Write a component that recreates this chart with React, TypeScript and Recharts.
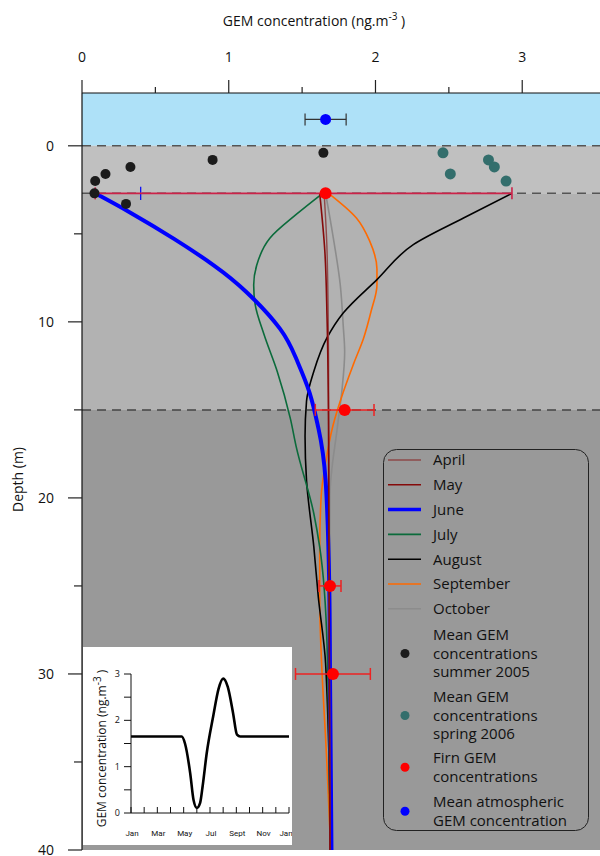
import {
  ComposedChart,
  LineChart,
  Line,
  Scatter,
  XAxis,
  YAxis,
  ReferenceArea,
  ReferenceLine,
  ErrorBar,
  Legend,
} from "recharts";

const FONT = "'Open Sans', 'DejaVu Sans', sans-serif";

// modelled firn profiles: depth (m) -> GEM concentration (ng.m-3)
const aprilProfile = [
  { depth: 2.7, conc: 1.65 },
  { depth: 6, conc: 1.67 },
  { depth: 12, conc: 1.68 },
  { depth: 40, conc: 1.69 },
];
const mayProfile = [
  { depth: 2.7, conc: 1.62 },
  { depth: 6, conc: 1.655 },
  { depth: 9.8, conc: 1.67 },
  { depth: 15.9, conc: 1.68 },
  { depth: 40, conc: 1.69 },
];
const juneProfile = [
  { depth: 2.7, conc: 0.09 },
  { depth: 3.8, conc: 0.33 },
  { depth: 5.3, conc: 0.63 },
  { depth: 6.8, conc: 0.9 },
  { depth: 8.3, conc: 1.12 },
  { depth: 10.4, conc: 1.35 },
  { depth: 12.1, conc: 1.46 },
  { depth: 14, conc: 1.55 },
  { depth: 16, conc: 1.61 },
  { depth: 19, conc: 1.66 },
  { depth: 25, conc: 1.685 },
  { depth: 30, conc: 1.69 },
  { depth: 40, conc: 1.7 },
];
const julyProfile = [
  { depth: 2.7, conc: 1.64 },
  { depth: 3.9, conc: 1.46 },
  { depth: 5.25, conc: 1.28 },
  { depth: 6.8, conc: 1.19 },
  { depth: 7.9, conc: 1.17 },
  { depth: 9, conc: 1.18 },
  { depth: 10.7, conc: 1.24 },
  { depth: 12.8, conc: 1.33 },
  { depth: 15.5, conc: 1.42 },
  { depth: 17.1, conc: 1.46 },
  { depth: 20.9, conc: 1.58 },
  { depth: 22.8, conc: 1.62 },
  { depth: 28.4, conc: 1.67 },
  { depth: 40, conc: 1.69 },
];
const augustProfile = [
  { depth: 2.7, conc: 2.93 },
  { depth: 4.1, conc: 2.6 },
  { depth: 5.6, conc: 2.26 },
  { depth: 7.6, conc: 2.01 },
  { depth: 9.5, conc: 1.78 },
  { depth: 10.9, conc: 1.67 },
  { depth: 12.8, conc: 1.58 },
  { depth: 14.5, conc: 1.53 },
  { depth: 16.5, conc: 1.52 },
  { depth: 19, conc: 1.53 },
  { depth: 22.8, conc: 1.58 },
  { depth: 25.6, conc: 1.61 },
  { depth: 29.4, conc: 1.66 },
  { depth: 40, conc: 1.695 },
];
const septemberProfile = [
  { depth: 2.7, conc: 1.68 },
  { depth: 4.1, conc: 1.87 },
  { depth: 5.4, conc: 1.96 },
  { depth: 7, conc: 2.01 },
  { depth: 7.9, conc: 2.01 },
  { depth: 9.4, conc: 1.97 },
  { depth: 10.9, conc: 1.92 },
  { depth: 12.4, conc: 1.85 },
  { depth: 14, conc: 1.78 },
  { depth: 15.9, conc: 1.71 },
  { depth: 18, conc: 1.66 },
  { depth: 19.9, conc: 1.63 },
  { depth: 22.8, conc: 1.62 },
  { depth: 25.6, conc: 1.62 },
  { depth: 35.3, conc: 1.67 },
  { depth: 40, conc: 1.695 },
];
const octoberProfile = [
  { depth: 2.7, conc: 1.66 },
  { depth: 5.1, conc: 1.71 },
  { depth: 7.9, conc: 1.76 },
  { depth: 10.2, conc: 1.78 },
  { depth: 11.7, conc: 1.79 },
  { depth: 14, conc: 1.77 },
  { depth: 16, conc: 1.74 },
  { depth: 19.9, conc: 1.69 },
  { depth: 40, conc: 1.69 },
];

// measured points
const summer2005 = [
  { conc: 0.09, depth: 2.0 },
  { conc: 0.16, depth: 1.6 },
  { conc: 0.33, depth: 1.2 },
  { conc: 0.89, depth: 0.8 },
  { conc: 1.645, depth: 0.4 },
  { conc: 0.085, depth: 2.7 },
  { conc: 0.3, depth: 3.3 },
];
const spring2006 = [
  { conc: 2.46, depth: 0.4 },
  { conc: 2.51, depth: 1.6 },
  { conc: 2.77, depth: 0.8 },
  { conc: 2.81, depth: 1.2 },
  { conc: 2.89, depth: 2.0 },
];
const firnTop = [{ conc: 1.66, depth: 2.7, err: [1.57, 1.27] }];
const firnDeep = [
  { conc: 1.79, depth: 15, err: 0.2 },
  { conc: 1.69, depth: 25, err: 0.075 },
  { conc: 1.71, depth: 30, err: 0.255 },
];
const atmosphere = [{ conc: 1.66, depth: -1.5, err: 0.14 }];
const juneMark = [
  { x: 0.4, y: 2.33 },
  { x: 0.4, y: 3.08 },
];

// layers
const surfaceDepth = 0;
const firnTopDepth = 2.7;
const firnMidDepth = 15;

const xTicks = [0, 0.5, 1, 1.5, 2, 2.5, 3];
const yTicks = [0, 5, 10, 15, 20, 25, 30, 35, 40];

// inset: seasonal GEM concentration at the surface
const insetMonths = [0, 1, 2, 3, 3.85, 4.1, 4.5, 4.75, 5.0, 5.25, 5.45, 5.75, 6.25, 6.65, 7.0, 7.35, 7.75, 8.05, 8.3, 9, 10, 11, 12];
const insetValues = [1.65, 1.65, 1.65, 1.65, 1.65, 1.5, 0.85, 0.28, 0.11, 0.22, 0.6, 1.29, 2.1, 2.68, 2.9, 2.72, 2.16, 1.69, 1.65, 1.65, 1.65, 1.65, 1.65];
const insetTickLabels = ["Jan", "", "Mar", "", "May", "", "Jul", "", "Sept", "", "Nov", "", "Jan"];
const insetXTicks = insetTickLabels.map((_, i) => i);
const insetYTicks = [0, 0.5, 1, 1.5, 2, 2.5, 3];
const insetData = insetMonths.map((m, i) => ({ month: m, gem: insetValues[i] }));

const lineItems = [
  { name: "April", color: "#8e4a4a", width: 1.4 },
  { name: "May", color: "#850a0a", width: 1.6 },
  { name: "June", color: "#0000ff", width: 4 },
  { name: "July", color: "#0b6b3b", width: 1.6 },
  { name: "August", color: "#000000", width: 1.6 },
  { name: "September", color: "#ff6a00", width: 1.6 },
  { name: "October", color: "#8c8c8c", width: 1.6 },
];
const dotItems = [
  { lines: ["Mean GEM", "concentrations", "summer 2005"], color: "#1c1c1c" },
  { lines: ["Mean GEM", "concentrations", "spring 2006"], color: "#336e6c" },
  { lines: ["Firn GEM", "concentrations"], color: "#ff0000" },
  { lines: ["Mean atmospheric", "GEM concentration"], color: "#0000ff" },
];

const dot = (r: number, color: string) => (p: any) => (
  <circle cx={p.cx} cy={p.cy} r={r} fill={color} />
);

const TopTick = (p: any) => {
  const major = Number.isInteger(p.payload.value);
  return (
    <g>
      <line x1={p.x} y1={p.y} x2={p.x} y2={p.y - (major ? 13 : 6)} stroke="#222" strokeWidth={1.2} />
      {major && (
        <text x={p.x} y={p.y - 31} textAnchor="middle" fontSize={14} fontFamily={FONT} fill="#111">
          {p.payload.value}
        </text>
      )}
    </g>
  );
};

const LeftTick = (p: any) => {
  const major = p.payload.value % 10 === 0;
  return (
    <g>
      <line x1={p.x} y1={p.y} x2={p.x - (major ? 14 : 8)} y2={p.y} stroke="#222" strokeWidth={1.2} />
      {major && (
        <text x={p.x - 28} y={p.y} dy="0.36em" textAnchor="end" fontSize={14} fontFamily={FONT} fill="#111">
          {p.payload.value}
        </text>
      )}
    </g>
  );
};

const TitleLabel = (p: any) => {
  const vb = p.viewBox || { x: 82, y: 0 };
  return (
    <text x={vb.x + 232} y={vb.y + 26} textAnchor="middle" fontSize={14} fontFamily={FONT} fill="#111">
      GEM concentration (ng.m
      <tspan fontSize={10} dy={-6}>-3</tspan>
      <tspan dy={6}> )</tspan>
    </text>
  );
};

const DepthLabel = (p: any) => {
  const vb = p.viewBox || { x: 0, y: 93, height: 757 };
  const cy = vb.y + vb.height / 2 + 8;
  return (
    <text x={18} y={cy} transform={`rotate(-90 18 ${cy})`} dy="0.36em" textAnchor="middle" fontSize={14} fontFamily={FONT} fill="#111">
      Depth (m)
    </text>
  );
};

const LegendBox = () => (
  <svg width={206} height={382} style={{ display: "block" }}>
    <rect x={0.5} y={0.5} width={205} height={381} rx={13} fill="none" stroke="#222" strokeWidth={1} />
    {lineItems.map((it, i) => {
      const cy = 11 + i * 24.8;
      return (
        <g key={it.name}>
          <line x1={5} x2={38} y1={cy} y2={cy} stroke={it.color} strokeWidth={it.width === 4 ? 3.5 : 1.6} />
          <text x={50} y={cy} dy="0.36em" fontSize={15} fontFamily={FONT} fill="#111">
            {it.name}
          </text>
        </g>
      );
    })}
    {dotItems.map((it, i) => {
      const starts = [186, 248, 309, 353];
      const top = starts[i];
      const cy = top + ((it.lines.length - 1) * 18.5) / 2;
      return (
        <g key={i}>
          <circle cx={22} cy={cy} r={4.5} fill={it.color} />
          {it.lines.map((ln, j) => (
            <text key={j} x={50} y={top + j * 18.5} dy="0.36em" fontSize={15} fontFamily={FONT} fill="#111">
              {ln}
            </text>
          ))}
        </g>
      );
    })}
  </svg>
);

const InsetXTick = (p: any) => {
  const idx = p.payload.value;
  const label = insetTickLabels[idx];
  const last = idx === insetTickLabels.length - 1;
  return (
    <g>
      <line x1={p.x} y1={p.y} x2={p.x} y2={p.y - 6} stroke="#111" strokeWidth={1} />
      {label && (
        <text x={last ? p.x - 3 : p.x + 1} y={p.y + 20} dy="0.35em" textAnchor="middle" fontSize={8} fontFamily="'Liberation Sans Narrow', 'Roboto', sans-serif" fill="#111">
          {label}
        </text>
      )}
    </g>
  );
};

const InsetYTick = (p: any) => {
  const major = Number.isInteger(p.payload.value);
  return (
    <g>
      <line x1={p.x} y1={p.y} x2={p.x - 7} y2={p.y} stroke="#111" strokeWidth={1} />
      {major && (
        <text x={p.x - 11} y={p.y} dy="0.35em" textAnchor="end" fontSize={9} fontFamily={FONT} fill="#111">
          {p.payload.value}
        </text>
      )}
    </g>
  );
};

const InsetYLabel = (p: any) => {
  const vb = p.viewBox || { y: 27, height: 139 };
  const cy = vb.y + vb.height / 2 + 5;
  return (
    <text x={19} y={cy} transform={`rotate(-90 19 ${cy})`} dy="0.36em" textAnchor="middle" fontSize={12} fontFamily={FONT} fill="#111">
      GEM concentration (ng.m
      <tspan fontSize={10} dy={-5}>-3</tspan>
      <tspan dy={5}> )</tspan>
    </text>
  );
};

const Inset = () => (
  <div style={{ position: "absolute", left: 83, top: 647, width: 209, height: 198, background: "#fff" }}>
    <LineChart width={209} height={198} data={insetData} margin={{ top: 27, right: 3, bottom: 0, left: 0 }}>
      <XAxis
        type="number"
        dataKey="month"
        domain={[0, 12]}
        ticks={insetXTicks}
        interval={0}
        tickSize={0}
        tickMargin={0}
        tickLine={false}
        tick={(p: any) => <InsetXTick {...p} />}
        axisLine={{ stroke: "#111" }}
        height={32}
      />
      <YAxis
        type="number"
        domain={[0, 3]}
        allowDataOverflow
        ticks={insetYTicks}
        interval={0}
        tickSize={0}
        tickMargin={0}
        tickLine={false}
        tick={(p: any) => <InsetYTick {...p} />}
        axisLine={{ stroke: "#111" }}
        width={48}
        label={(p: any) => <InsetYLabel {...p} />}
      />
      <Line type="monotone" dataKey="gem" stroke="#000" strokeWidth={2.6} dot={false} isAnimationActive={false} />
    </LineChart>
  </div>
);

const profiles = [
  { data: octoberProfile, item: lineItems[6], curve: "monotone" },
  { data: septemberProfile, item: lineItems[5], curve: "monotone" },
  { data: augustProfile, item: lineItems[4], curve: "monotone" },
  { data: julyProfile, item: lineItems[3], curve: "monotone" },
  { data: juneProfile, item: lineItems[2], curve: "natural" },
  { data: aprilProfile, item: lineItems[0], curve: "monotone" },
  { data: mayProfile, item: lineItems[1], curve: "monotone" },
];

export default function App() {
  return (
    <div style={{ position: "absolute", left: 0, top: 0, width: 600, height: 856, background: "#fff", overflow: "hidden" }}>
      <ComposedChart width={600} height={856} layout="vertical" margin={{ top: 0, right: 0, bottom: 6, left: 0 }}>
        <XAxis
          type="number"
          dataKey="conc"
          orientation="top"
          domain={[0, 3.53]}
          allowDataOverflow
          ticks={xTicks}
          interval={0}
          tickSize={0}
          tickMargin={0}
          tickLine={false}
          tick={(p: any) => <TopTick {...p} />}
          axisLine={{ stroke: "#111", strokeWidth: 1.2 }}
          height={93}
          label={(p: any) => <TitleLabel {...p} />}
        />
        <YAxis
          type="number"
          dataKey="depth"
          domain={[-3, 40]}
          allowDataOverflow
          ticks={yTicks}
          interval={0}
          tickSize={0}
          tickMargin={0}
          tickLine={false}
          tick={(p: any) => <LeftTick {...p} />}
          axisLine={{ stroke: "#111", strokeWidth: 1.2 }}
          width={82}
          label={(p: any) => <DepthLabel {...p} />}
        />
        <ReferenceArea y1={-3} y2={surfaceDepth} fill="#aee1f8" fillOpacity={1} stroke="none" />
        <ReferenceArea y1={surfaceDepth} y2={firnTopDepth} fill="#c0c0c0" fillOpacity={1} stroke="none" />
        <ReferenceArea y1={firnTopDepth} y2={firnMidDepth} fill="#b2b2b2" fillOpacity={1} stroke="none" />
        <ReferenceArea y1={firnMidDepth} y2={40} fill="#999999" fillOpacity={1} stroke="none" />
        <ReferenceLine y={surfaceDepth} stroke="#555" strokeWidth={1.5} strokeDasharray="9 6" />
        <ReferenceLine y={firnTopDepth} stroke="#555" strokeWidth={1.5} strokeDasharray="9 6" />
        <ReferenceLine y={firnMidDepth} stroke="#444" strokeWidth={1.5} strokeDasharray="9 6" />
        {profiles.map((pr) => (
          <Line
            key={pr.item.name}
            data={pr.data}
            dataKey="conc"
            type={pr.curve as any}
            stroke={pr.item.color}
            strokeWidth={pr.item.width}
            dot={false}
            activeDot={false}
            isAnimationActive={false}
          />
        ))}
        <Scatter data={summer2005} dataKey="conc" shape={dot(5, "#1c1c1c")} isAnimationActive={false} />
        <Scatter data={spring2006} dataKey="conc" shape={dot(5.5, "#336e6c")} isAnimationActive={false} />
        <ReferenceLine segment={juneMark} stroke="#0000ff" strokeWidth={1.2} />
        <Scatter data={firnTop} dataKey="conc" shape={dot(6, "#ff0000")} isAnimationActive={false}>
          <ErrorBar dataKey="err" direction="x" width={6} stroke="#cc2248" strokeWidth={1.6} />
        </Scatter>
        <Scatter data={firnDeep} dataKey="conc" shape={dot(6, "#ff0000")} isAnimationActive={false}>
          <ErrorBar dataKey="err" direction="x" width={6} stroke="#ee2222" strokeWidth={1.5} />
        </Scatter>
        <Scatter data={atmosphere} dataKey="conc" shape={dot(5.5, "#0000ff")} isAnimationActive={false}>
          <ErrorBar dataKey="err" direction="x" width={6} stroke="#333" strokeWidth={1.2} />
        </Scatter>
        <Legend
          layout="horizontal"
          verticalAlign="middle"
          align="center"
          content={() => <LegendBox />}
          wrapperStyle={{ left: 383, top: 449, width: 206, height: 382 }}
        />
      </ComposedChart>
      <Inset />
    </div>
  );
}
